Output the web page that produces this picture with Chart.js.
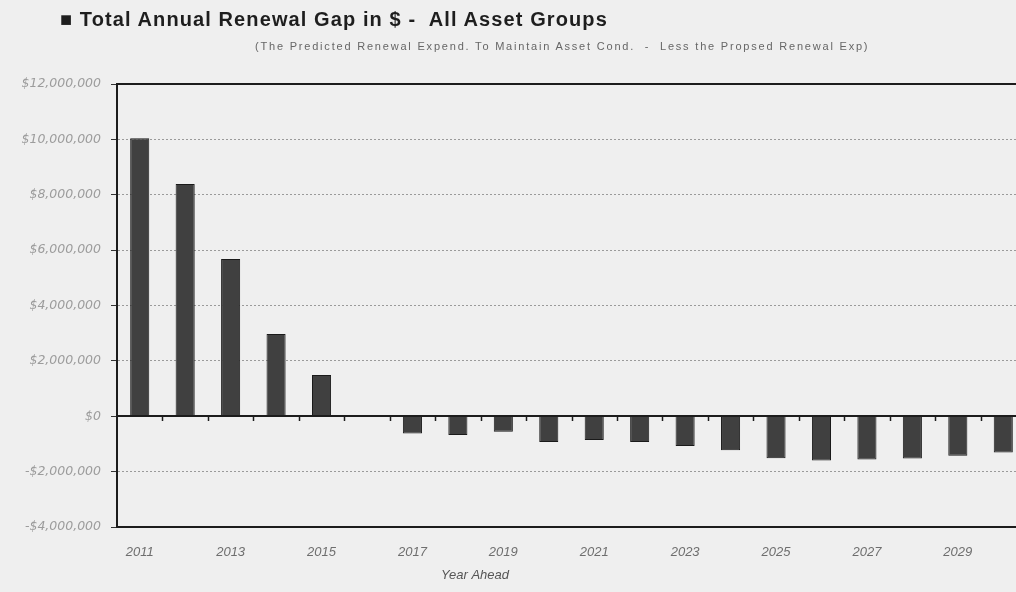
<!DOCTYPE html>
<html>
<head>
<meta charset="utf-8">
<script src="https://cdn.jsdelivr.net/npm/chart.js@4.4.1/dist/chart.umd.min.js"></script>
<style>
  html, body { margin: 0; padding: 0; background: #efefef; }
  #wrap { position: relative; width: 1016px; height: 592px; overflow: hidden; background: #efefef; }
  #title { position: absolute; left: 60px; top: 8px; font: bold 20px "Liberation Sans", Arial, sans-serif; color: #1e1e1e; letter-spacing: 1.1px; white-space: pre; }
  #subtitle { position: absolute; left: 255px; top: 40px; font: 11px "Liberation Sans", Arial, sans-serif; color: #666; letter-spacing: 1.8px; white-space: pre; }
  #chartBox { position: absolute; left: 0; top: 0; width: 1040px; height: 592px; }
</style>
</head>
<body>
<div id="wrap">
  <div id="chartBox"><canvas id="gapChart"></canvas></div>
  <div id="title">■ Total Annual Renewal Gap in $ -  All Asset Groups</div>
  <div id="subtitle">(The Predicted Renewal Expend. To Maintain Asset Cond.  -  Less the Propsed Renewal Exp)</div>
</div>
<script>
// years ahead and renewal gap ($) per year
const years = ['2011', '2012', '2013', '2014', '2015', '2016', '2017', '2018', '2019', '2020',
               '2021', '2022', '2023', '2024', '2025', '2026', '2027', '2028', '2029', '2030'];
const renewalGap = [10040000, 8390000, 5680000, 2970000, 1490000, null, -620000, -680000, -560000, -930000,
                    -860000, -930000, -1070000, -1230000, -1520000, -1600000, -1560000, -1530000, -1430000, -1310000];

const yMin = -4000000;
const yMax = 12000000;
const yStep = 2000000;
const xAxisTitle = 'Year Ahead';

const fmtMoney = v => (v < 0 ? '-' : '') + '$' + Math.abs(v).toLocaleString('en-US');

// solid frame lines, zero line with category ticks, and the axis title
const axisLines = {
  id: 'axisLines',
  afterDatasetsDraw(chart) {
    const { ctx, chartArea, scales: { x, y } } = chart;
    ctx.save();
    ctx.strokeStyle = '#1c1c1c';
    ctx.lineWidth = 2;
    [yMax, 0, yMin].forEach(v => {
      const py = Math.round(y.getPixelForValue(v));
      ctx.beginPath();
      ctx.moveTo(chartArea.left, py);
      ctx.lineTo(chartArea.right, py);
      ctx.stroke();
    });

    const zy = Math.round(y.getPixelForValue(0));
    ctx.lineWidth = 1.5;
    for (let i = 1; i <= years.length; i++) {
      const px = Math.round(x.getPixelForValue(i - 0.5)) + 0.5;
      ctx.beginPath();
      ctx.moveTo(px, zy);
      ctx.lineTo(px, zy + 5);
      ctx.stroke();
    }

    ctx.font = 'italic 13px "Liberation Sans", Arial, sans-serif';
    ctx.fillStyle = '#555';
    ctx.textAlign = 'center';
    ctx.textBaseline = 'middle';
    ctx.fillText(xAxisTitle, 475, 575);
    ctx.restore();
  }
};

const frameValues = [yMax, 0, yMin];

new Chart(document.getElementById('gapChart'), {
  type: 'bar',
  data: {
    labels: years,
    datasets: [{
      label: 'Renewal Gap',
      data: renewalGap,
      backgroundColor: '#404040',
      borderColor: '#1a1a1a',
      borderWidth: 1,
      barPercentage: 0.42,
      categoryPercentage: 1
    }]
  },
  options: {
    responsive: true,
    maintainAspectRatio: false,
    animation: false,
    layout: { padding: { top: 84, right: 14, left: 0, bottom: 0 } },
    plugins: {
      legend: { display: false },
      tooltip: { enabled: false }
    },
    scales: {
      x: {
        grid: { display: false, drawTicks: false },
        border: { display: false },
        ticks: {
          autoSkip: false,
          maxRotation: 0,
          color: '#6e6e6e',
          padding: 18,
          font: { family: '"Liberation Sans", Arial, sans-serif', size: 13, style: 'italic' },
          callback: (v, i) => (i % 2 === 0 ? years[i] : '')
        },
        afterFit: s => { s.height = 65; }
      },
      y: {
        min: yMin,
        max: yMax,
        ticks: {
          stepSize: yStep,
          color: '#9c9c9c',
          padding: 10,
          font: { family: '"DejaVu Sans", sans-serif', size: 12.5, style: 'italic' },
          callback: v => fmtMoney(v)
        },
        grid: {
          color: c => (frameValues.includes(c.tick.value) ? 'rgba(0,0,0,0)' : '#9a9a9a'),
          lineWidth: 1,
          drawTicks: true,
          tickLength: 6,
          tickColor: '#333',
          tickBorderDash: []
        },
        border: { display: true, color: '#1c1c1c', width: 2, dash: [2, 2] },
        afterFit: s => { s.width = 117; }
      }
    }
  },
  plugins: [axisLines]
});
</script>
</body>
</html>
